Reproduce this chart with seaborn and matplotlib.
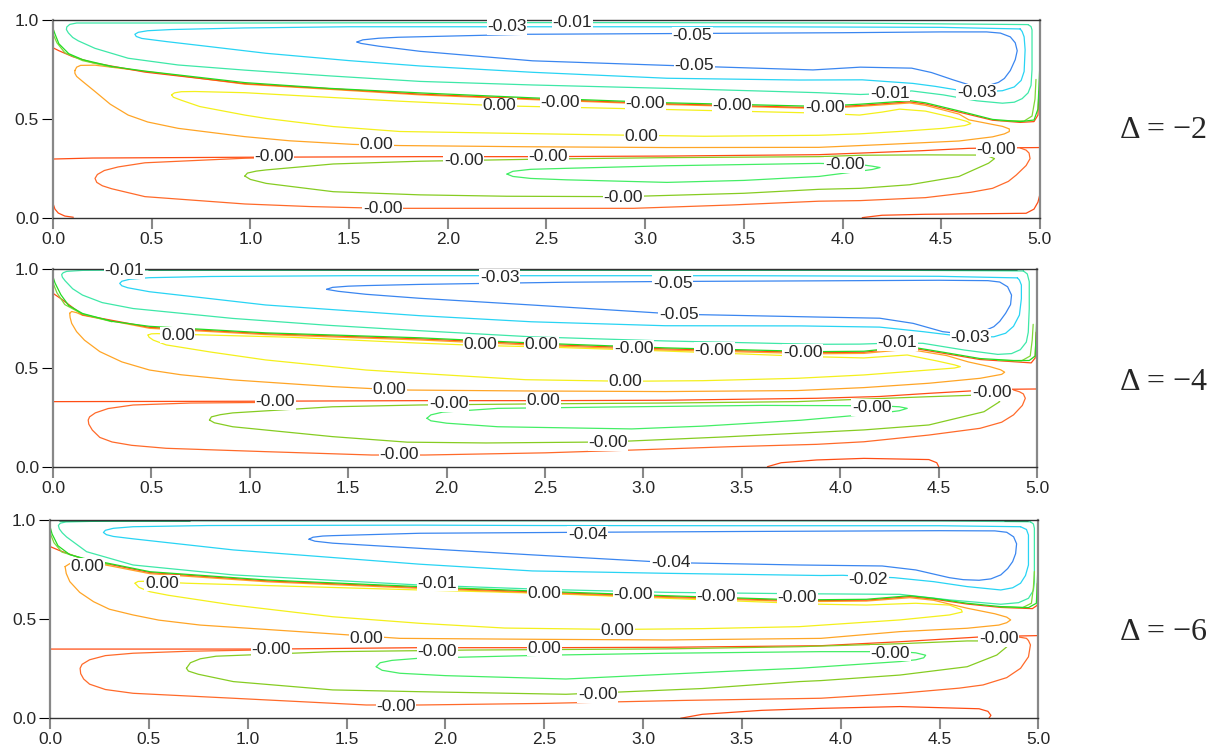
import numpy as np
import seaborn as sns
import matplotlib.pyplot as plt

sns.set_style("ticks")
plt.rcParams['font.family'] = ['Liberation Sans', 'DejaVu Sans']

# contour colours (jet-like)
BLUE = '#3a86f0'
CYAN = '#28d4f4'
TEAL = '#3ee8a8'
DKGREEN = '#12995a'
GREEN = '#22dd22'
LIME = '#7fd838'
YGREEN = '#86cc22'
LGREEN = '#44ee66'
YELLOW = '#f4f01c'
ORANGE = '#ffa526'
RED = '#ff4d14'
REDOR = '#ff6a2a'

panel_titles = ['Δ = −2', 'Δ = −4', 'Δ = −6']
x_ticks = [0.0, 0.5, 1.0, 1.5, 2.0, 2.5, 3.0, 3.5, 4.0, 4.5, 5.0]
y_ticks = [0.0, 0.5, 1.0]

# ---------------- panel 1 (delta = -2) ----------------
p1_teal = [(4.94, 0.977), (4.0, 0.985), (3.0, 0.987), (2.0, 0.987), (1.0, 0.985), (0.3, 0.985),
           (0.12, 0.985), (0.085, 0.978), (0.07, 0.965), (0.068, 0.952), (0.078, 0.935), (0.10, 0.912),
           (0.128, 0.895), (0.213, 0.857), (0.381, 0.807), (0.634, 0.773), (0.972, 0.747), (1.4, 0.718),
           (1.86, 0.69), (2.43, 0.672), (3.11, 0.655), (3.88, 0.633), (4.09, 0.624), (4.25, 0.63),
           (4.35, 0.642), (4.51, 0.622), (4.68, 0.592), (4.81, 0.58), (4.87, 0.585), (4.91, 0.603),
           (4.94, 0.632), (4.955, 0.67), (4.96, 0.75), (4.96, 0.95), (4.955, 0.967), (4.94, 0.977)]
p1_cyan = [(4.90, 0.955), (4.5, 0.963), (3.5, 0.966), (2.5, 0.966), (1.5, 0.966), (0.97, 0.96),
           (0.6, 0.952), (0.48, 0.946), (0.432, 0.938), (0.415, 0.928), (0.422, 0.917), (0.45, 0.907),
           (0.576, 0.891), (0.8, 0.865), (1.08, 0.832), (1.5, 0.795), (1.86, 0.768), (2.43, 0.736),
           (3.11, 0.706), (3.78, 0.697), (4.1, 0.698), (4.356, 0.68), (4.47, 0.665), (4.58, 0.647),
           (4.7, 0.637), (4.81, 0.643), (4.87, 0.662), (4.905, 0.695), (4.92, 0.74), (4.925, 0.85),
           (4.92, 0.915), (4.91, 0.942), (4.90, 0.955)]
p1_blue = [(1.54, 0.889), (1.57, 0.9), (1.65, 0.908), (1.75, 0.913), (2.4, 0.928), (3.2, 0.932),
           (4.0, 0.936), (4.5, 0.94), (4.73, 0.94), (4.80, 0.934), (4.85, 0.915), (4.875, 0.885),
           (4.885, 0.845), (4.875, 0.80), (4.85, 0.745), (4.82, 0.705), (4.79, 0.685), (4.75, 0.673),
           (4.69, 0.669), (4.64, 0.673), (4.56, 0.698), (4.45, 0.735), (4.35, 0.757), (4.09, 0.762),
           (3.85, 0.748), (3.11, 0.771), (2.43, 0.794), (1.86, 0.842), (1.65, 0.868), (1.56, 0.882),
           (1.54, 0.889)]
p1_green = [(0.0, 0.958), (0.01, 0.93), (0.03, 0.88), (0.08, 0.83), (0.15, 0.80), (0.3, 0.765),
            (0.466, 0.742), (0.972, 0.684), (1.4, 0.655), (1.86, 0.632), (2.43, 0.607), (3.11, 0.582),
            (3.88, 0.564), (4.09, 0.575), (4.25, 0.586), (4.34, 0.593), (4.42, 0.582), (4.59, 0.541),
            (4.76, 0.498), (4.90, 0.487), (4.97, 0.495), (4.99, 0.55), (5.0, 0.78)]
p1_lime_l = [(0.0, 0.93), (0.02, 0.885), (0.06, 0.835), (0.15, 0.795), (0.3, 0.762)]
p1_lime_r = [(4.80, 0.492), (4.92, 0.49), (4.96, 0.515), (4.975, 0.6), (4.98, 0.70)]
p1_red = [(0.0, 0.86), (0.03, 0.845), (0.1, 0.815), (0.2, 0.785), (0.466, 0.737), (0.972, 0.679),
          (1.86, 0.626), (2.43, 0.602), (3.11, 0.577), (3.88, 0.557), (4.09, 0.569), (4.34, 0.587),
          (4.42, 0.576), (4.59, 0.535), (4.76, 0.494), (4.90, 0.483), (4.97, 0.487), (4.99, 0.52),
          (4.995, 0.64)]
p1_orange = [(0.111, 0.745), (0.12, 0.762), (0.14, 0.771), (0.213, 0.772), (0.634, 0.72), (0.972, 0.676),
             (1.86, 0.622), (2.43, 0.598), (3.11, 0.573), (3.88, 0.553), (4.09, 0.564), (4.34, 0.581),
             (4.42, 0.569), (4.59, 0.525), (4.64, 0.496), (4.81, 0.463), (4.845, 0.45), (4.845, 0.437),
             (4.82, 0.425), (4.76, 0.41), (4.59, 0.389), (4.25, 0.373), (4.09, 0.366), (3.88, 0.357),
             (3.11, 0.356), (2.4, 0.36), (1.757, 0.366), (1.52, 0.372), (1.2, 0.39), (0.972, 0.411),
             (0.634, 0.453), (0.48, 0.485), (0.381, 0.52), (0.29, 0.575), (0.213, 0.639), (0.15, 0.69),
             (0.12, 0.715), (0.111, 0.731), (0.111, 0.745)]
p1_yellow = [(0.601, 0.622), (0.615, 0.632), (0.65, 0.638), (0.719, 0.639), (0.972, 0.633), (1.757, 0.59),
             (2.26, 0.567), (3.11, 0.548), (3.88, 0.53), (4.086, 0.52), (4.2, 0.535), (4.29, 0.55),
             (4.42, 0.54), (4.55, 0.51), (4.63, 0.488), (4.65, 0.477), (4.62, 0.467), (4.51, 0.453),
             (4.3, 0.438), (4.086, 0.425), (3.88, 0.418), (3.3, 0.413), (2.8, 0.42), (1.757, 0.437),
             (1.42, 0.462), (1.08, 0.503), (0.972, 0.52), (0.744, 0.563), (0.65, 0.595), (0.61, 0.61),
             (0.601, 0.622)]
p1_zero = [(0.0, 0.298), (0.2, 0.303), (0.972, 0.307), (1.86, 0.31), (2.43, 0.31), (3.11, 0.313),
           (3.88, 0.32), (4.09, 0.328), (4.4, 0.34), (4.64, 0.352), (4.9, 0.355), (5.0, 0.356)]
p1_outer = [(1.1, 0.305), (0.972, 0.302), (0.466, 0.279), (0.33, 0.258), (0.26, 0.24), (0.225, 0.22),
            (0.213, 0.20), (0.222, 0.18), (0.25, 0.163), (0.297, 0.148), (0.466, 0.108), (0.972, 0.071),
            (1.3, 0.058), (1.67, 0.049), (1.94, 0.049), (2.94, 0.049), (3.44, 0.066), (3.88, 0.085),
            (4.09, 0.088), (4.42, 0.103), (4.65, 0.13), (4.76, 0.15), (4.84, 0.185), (4.88, 0.217),
            (4.93, 0.265), (4.95, 0.30), (4.945, 0.328), (4.93, 0.343), (4.90, 0.354)]
p1_ygreen = [(0.972, 0.212), (0.985, 0.227), (1.03, 0.237), (1.08, 0.243), (1.42, 0.273), (1.86, 0.287),
             (2.5, 0.298), (3.11, 0.305), (3.88, 0.31), (4.09, 0.317), (4.42, 0.319), (4.68, 0.318),
             (4.74, 0.312), (4.77, 0.30), (4.74, 0.277), (4.59, 0.21), (4.34, 0.168), (4.09, 0.15),
             (3.88, 0.145), (3.5, 0.125), (2.89, 0.108), (2.3, 0.11), (1.86, 0.117), (1.42, 0.133),
             (1.08, 0.175), (1.0, 0.195), (0.972, 0.212)]
p1_green_in = [(2.30, 0.222), (2.33, 0.236), (2.42, 0.246), (2.60, 0.251), (3.11, 0.264), (3.88, 0.276),
               (4.09, 0.27), (4.15, 0.262), (4.19, 0.255), (4.15, 0.245), (4.09, 0.237), (3.88, 0.21),
               (3.5, 0.19), (3.11, 0.18), (2.60, 0.193), (2.42, 0.2), (2.33, 0.21), (2.30, 0.222)]
p1_corner_l = [(0.0, 0.074), (0.01, 0.045), (0.027, 0.025), (0.06, 0.01), (0.103, 0.004)]
p1_corner_r = [(4.1, 0.002), (4.2, 0.014), (4.42, 0.019), (4.93, 0.024), (4.97, 0.045), (4.99, 0.08),
               (5.0, 0.12)]
p1_labels = [(2.63, 0.99, '-0.01'), (2.30, 0.965, '-0.03'), (3.24, 0.924, '-0.05'), (3.25, 0.768, '-0.05'),
             (4.24, 0.63, '-0.01'), (4.68, 0.636, '-0.03'), (2.26, 0.567, '0.00'), (2.57, 0.585, '-0.00'),
             (3.0, 0.576, '-0.00'), (3.44, 0.566, '-0.00'), (3.91, 0.556, '-0.00'), (2.98, 0.41, '0.00'),
             (1.64, 0.369, '0.00'), (1.12, 0.31, '-0.00'), (2.08, 0.293, '-0.00'), (2.51, 0.31, '-0.00'),
             (4.01, 0.268, '-0.00'), (4.78, 0.348, '-0.00'), (2.89, 0.106, '-0.00'), (1.67, 0.05, '-0.00')]

# ---------------- panel 2 (delta = -4) ----------------
p2_teal = [(4.93, 0.99), (4.0, 0.995), (3.0, 0.996), (2.0, 0.996), (1.0, 0.996), (0.5, 0.995),
           (0.15, 0.993), (0.07, 0.988), (0.052, 0.981), (0.044, 0.972), (0.048, 0.958), (0.062, 0.94),
           (0.1, 0.9), (0.15, 0.868), (0.25, 0.83), (0.407, 0.80), (0.913, 0.75), (1.4, 0.715),
           (1.86, 0.688), (2.43, 0.657), (3.11, 0.636), (3.88, 0.619), (4.1, 0.62), (4.29, 0.626),
           (4.42, 0.624), (4.63, 0.59), (4.80, 0.568), (4.87, 0.572), (4.915, 0.592), (4.945, 0.63),
           (4.955, 0.68), (4.96, 0.8), (4.96, 0.936), (4.95, 0.975), (4.93, 0.99)]
p2_topline = [(0.49, 0.997), (2.0, 0.997), (4.0, 0.997), (4.9, 0.997)]
p2_cyan = [(4.90, 0.955), (4.5, 0.963), (3.5, 0.966), (2.5, 0.966), (1.5, 0.966), (0.8, 0.962),
           (0.49, 0.956), (0.39, 0.948), (0.35, 0.938), (0.339, 0.927), (0.35, 0.915), (0.38, 0.905),
           (0.49, 0.885), (0.8, 0.85), (1.08, 0.818), (1.86, 0.764), (2.43, 0.733), (3.11, 0.713),
           (3.8, 0.712), (4.20, 0.706), (4.42, 0.683), (4.56, 0.666), (4.66, 0.657), (4.78, 0.657),
           (4.84, 0.675), (4.88, 0.71), (4.91, 0.767), (4.92, 0.85), (4.92, 0.919), (4.91, 0.944),
           (4.90, 0.955)]
p2_blue = [(1.39, 0.897), (1.42, 0.907), (1.5, 0.913), (1.59, 0.916), (1.86, 0.922), (2.60, 0.933),
           (3.16, 0.937), (3.88, 0.94), (4.5, 0.943), (4.75, 0.941), (4.81, 0.934), (4.85, 0.91),
           (4.87, 0.868), (4.865, 0.82), (4.84, 0.776), (4.81, 0.735), (4.78, 0.708), (4.73, 0.686),
           (4.68, 0.675), (4.60, 0.674), (4.52, 0.683), (4.37, 0.725), (4.20, 0.751), (3.88, 0.757),
           (3.18, 0.771), (2.43, 0.818), (1.86, 0.852), (1.59, 0.872), (1.45, 0.887), (1.39, 0.897)]
p2_green = [(0.0, 0.961), (0.01, 0.93), (0.04, 0.87), (0.08, 0.815), (0.15, 0.775), (0.3, 0.735),
            (0.49, 0.71), (1.08, 0.677), (1.86, 0.652), (2.43, 0.626), (3.11, 0.601), (3.88, 0.582),
            (4.12, 0.584), (4.28, 0.601), (4.37, 0.604), (4.54, 0.576), (4.71, 0.547), (4.88, 0.537),
            (4.96, 0.537), (4.99, 0.56), (5.0, 0.79)]
p2_lime_l = [(0.0, 0.93), (0.02, 0.88), (0.06, 0.82), (0.15, 0.772), (0.3, 0.733)]
p2_lime_r = [(4.80, 0.538), (4.92, 0.535), (4.965, 0.56), (4.975, 0.64), (4.98, 0.72)]
p2_red = [(0.0, 0.877), (0.04, 0.85), (0.15, 0.768), (0.49, 0.705), (1.08, 0.673), (1.86, 0.647),
          (2.43, 0.621), (3.11, 0.596), (3.88, 0.577), (4.12, 0.579), (4.28, 0.596), (4.37, 0.599),
          (4.54, 0.571), (4.71, 0.542), (4.88, 0.531), (4.97, 0.525), (4.99, 0.55), (4.995, 0.68)]
p2_orange = [(0.085, 0.776), (0.095, 0.785), (0.12, 0.779), (0.15, 0.766), (0.49, 0.70), (1.08, 0.668),
             (1.86, 0.641), (2.43, 0.615), (3.11, 0.59), (3.88, 0.571), (4.12, 0.573), (4.28, 0.588),
             (4.37, 0.59), (4.54, 0.562), (4.65, 0.53), (4.76, 0.506), (4.815, 0.49), (4.835, 0.478),
             (4.82, 0.467), (4.71, 0.447), (4.45, 0.422), (4.12, 0.40), (3.78, 0.385), (3.11, 0.38),
             (2.4, 0.383), (1.757, 0.388), (1.42, 0.405), (0.913, 0.439), (0.65, 0.465), (0.49, 0.489),
             (0.35, 0.53), (0.238, 0.582), (0.16, 0.64), (0.12, 0.683), (0.095, 0.725), (0.087, 0.755),
             (0.085, 0.776)]
p2_yellow = [(0.483, 0.666), (0.5, 0.672), (0.53, 0.673), (0.744, 0.667), (1.2, 0.655), (1.86, 0.625),
             (2.17, 0.613), (2.48, 0.606), (3.11, 0.585), (3.88, 0.556), (4.12, 0.55), (4.34, 0.565),
             (4.49, 0.535), (4.58, 0.515), (4.61, 0.506), (4.58, 0.499), (4.45, 0.489), (4.12, 0.464),
             (3.78, 0.447), (3.3, 0.435), (2.91, 0.432), (2.4, 0.44), (1.86, 0.472), (1.59, 0.489),
             (1.08, 0.54), (0.8, 0.58), (0.575, 0.616), (0.51, 0.64), (0.488, 0.655), (0.483, 0.666)]
p2_zero = [(0.0, 0.329), (1.0, 0.331), (1.86, 0.334), (2.5, 0.334), (3.11, 0.336), (3.88, 0.346),
           (4.2, 0.355), (4.45, 0.371), (4.80, 0.391), (5.0, 0.393)]
p2_outer = [(1.2, 0.326), (0.7, 0.322), (0.407, 0.312), (0.28, 0.294), (0.215, 0.272), (0.186, 0.252),
            (0.179, 0.236), (0.182, 0.215), (0.2, 0.185), (0.238, 0.148), (0.3, 0.125), (0.4, 0.108),
            (0.575, 0.093), (1.08, 0.076), (1.62, 0.059), (1.89, 0.059), (2.5, 0.07), (2.94, 0.084),
            (3.44, 0.101), (3.88, 0.113), (4.12, 0.126), (4.45, 0.16), (4.71, 0.194), (4.82, 0.225),
            (4.88, 0.262), (4.925, 0.31), (4.94, 0.346), (4.93, 0.368), (4.91, 0.379), (4.88, 0.388)]
p2_ygreen = [(0.795, 0.236), (0.805, 0.252), (0.85, 0.263), (0.913, 0.272), (1.42, 0.303), (1.86, 0.312),
             (2.5, 0.318), (3.11, 0.322), (3.78, 0.329), (4.45, 0.354), (4.73, 0.363), (4.79, 0.352),
             (4.81, 0.329), (4.73, 0.278), (4.45, 0.211), (4.12, 0.186), (3.78, 0.169), (3.4, 0.15),
             (2.82, 0.125), (2.2, 0.12), (1.8, 0.124), (1.42, 0.152), (0.913, 0.202), (0.82, 0.222),
             (0.795, 0.236)]
p2_green_in = [(1.90, 0.245), (1.92, 0.262), (1.98, 0.276), (2.26, 0.295), (2.94, 0.303), (3.6, 0.31),
               (4.2, 0.308), (4.3, 0.303), (4.34, 0.295), (4.3, 0.283), (4.20, 0.27), (3.8, 0.235),
               (3.3, 0.205), (2.94, 0.191), (2.26, 0.202), (2.0, 0.22), (1.92, 0.232), (1.90, 0.245)]
p2_arch = [(3.63, 0.0), (3.7, 0.02), (3.88, 0.034), (4.12, 0.042), (4.45, 0.036), (4.49, 0.02), (4.5, 0.0)]
p2_labels = [(0.363, 0.99, '-0.01'), (2.27, 0.958, '-0.03'), (3.15, 0.928, '-0.05'), (3.18, 0.771, '-0.05'),
             (0.634, 0.666, '0.00'), (2.17, 0.616, '0.00'), (2.48, 0.616, '0.00'), (2.95, 0.60, '-0.00'),
             (3.36, 0.59, '-0.00'), (3.81, 0.58, '-0.00'), (4.29, 0.626, '-0.01'), (4.66, 0.655, '-0.03'),
             (2.91, 0.433, '0.00'), (1.71, 0.392, '0.00'), (1.13, 0.33, '-0.00'), (2.01, 0.318, '-0.00'),
             (2.49, 0.334, '0.00'), (4.16, 0.30, '-0.00'), (4.77, 0.376, '-0.00'), (2.82, 0.12, '-0.00'),
             (1.76, 0.06, '-0.00')]

# ---------------- panel 3 (delta = -6) ----------------
p3_teal = [(4.96, 0.991), (4.5, 0.995), (3.5, 0.996), (2.5, 0.996), (1.5, 0.996), (0.71, 0.996),
           (0.3, 0.995), (0.08, 0.99), (0.052, 0.984), (0.042, 0.972), (0.047, 0.955), (0.062, 0.935),
           (0.084, 0.914), (0.185, 0.84), (0.42, 0.773), (0.927, 0.723), (1.87, 0.672), (2.5, 0.65),
           (3.12, 0.635), (3.79, 0.628), (4.30, 0.625), (4.55, 0.597), (4.81, 0.575), (4.9, 0.583),
           (4.95, 0.605), (4.975, 0.645), (4.98, 0.689), (4.98, 0.958), (4.975, 0.98), (4.96, 0.991)]
p3_topline_l = [(0.05, 0.997), (0.71, 0.997)]
p3_topline_r = [(4.83, 0.997), (4.95, 0.997)]
p3_cyan = [(4.91, 0.966), (4.5, 0.971), (3.5, 0.971), (2.5, 0.972), (1.87, 0.974), (0.8, 0.972),
           (0.42, 0.966), (0.32, 0.958), (0.28, 0.948), (0.27, 0.937), (0.285, 0.926), (0.32, 0.917),
           (0.42, 0.905), (0.927, 0.849), (1.87, 0.777), (2.44, 0.743), (3.12, 0.731), (3.9, 0.72),
           (4.01, 0.721), (4.27, 0.709), (4.47, 0.689), (4.64, 0.664), (4.81, 0.647), (4.87, 0.658),
           (4.91, 0.681), (4.935, 0.72), (4.95, 0.773), (4.95, 0.924), (4.94, 0.952), (4.91, 0.966)]
p3_blue = [(1.31, 0.903), (1.33, 0.913), (1.38, 0.919), (1.43, 0.921), (1.87, 0.933), (2.72, 0.938),
           (3.5, 0.942), (4.5, 0.946), (4.78, 0.945), (4.84, 0.938), (4.875, 0.915), (4.89, 0.88),
           (4.885, 0.83), (4.87, 0.79), (4.845, 0.755), (4.81, 0.723), (4.76, 0.703), (4.70, 0.696),
           (4.62, 0.699), (4.55, 0.709), (4.38, 0.748), (4.21, 0.768), (3.79, 0.773), (3.14, 0.785),
           (2.44, 0.824), (1.87, 0.857), (1.43, 0.883), (1.34, 0.893), (1.31, 0.903)]
p3_green = [(0.0, 0.966), (0.01, 0.93), (0.04, 0.87), (0.1, 0.825), (0.168, 0.807), (0.506, 0.739),
            (1.10, 0.697), (1.87, 0.664), (2.44, 0.642), (3.12, 0.618), (3.79, 0.597), (4.13, 0.60),
            (4.35, 0.618), (4.47, 0.605), (4.64, 0.58), (4.81, 0.563), (4.95, 0.558), (4.99, 0.58),
            (5.0, 0.807)]
p3_lime_l = [(0.0, 0.935), (0.02, 0.885), (0.06, 0.838), (0.168, 0.805), (0.3, 0.775)]
p3_lime_r = [(4.80, 0.563), (4.92, 0.558), (4.965, 0.58), (4.975, 0.66), (4.98, 0.74)]
p3_red = [(0.0, 0.866), (0.05, 0.845), (0.168, 0.803), (0.506, 0.735), (1.10, 0.693), (1.87, 0.66),
          (2.44, 0.638), (3.12, 0.614), (3.79, 0.593), (4.13, 0.596), (4.35, 0.614), (4.47, 0.601),
          (4.64, 0.576), (4.81, 0.559), (4.97, 0.553), (4.995, 0.57), (4.995, 0.68)]
p3_orange = [(0.076, 0.765), (0.1, 0.78), (0.168, 0.795), (0.506, 0.729), (1.10, 0.688), (1.87, 0.655),
             (2.44, 0.633), (3.12, 0.609), (3.79, 0.588), (4.13, 0.591), (4.35, 0.608), (4.47, 0.595),
             (4.64, 0.555), (4.78, 0.527), (4.84, 0.51), (4.86, 0.496), (4.84, 0.482), (4.80, 0.47),
             (4.64, 0.454), (4.30, 0.437), (3.90, 0.403), (3.12, 0.395), (2.5, 0.398), (1.77, 0.403),
             (1.26, 0.437), (0.76, 0.47), (0.55, 0.495), (0.42, 0.521), (0.3, 0.55), (0.22, 0.588),
             (0.15, 0.635), (0.10, 0.689), (0.082, 0.73), (0.076, 0.765)]
p3_yellow = [(0.43, 0.681), (0.445, 0.69), (0.48, 0.691), (0.69, 0.681), (1.87, 0.647), (2.50, 0.63),
             (3.12, 0.605), (3.90, 0.575), (4.13, 0.571), (4.38, 0.58), (4.55, 0.571), (4.61, 0.548),
             (4.615, 0.536), (4.55, 0.521), (4.30, 0.496), (3.79, 0.462), (3.3, 0.452), (2.87, 0.448),
             (2.3, 0.455), (1.87, 0.479), (1.43, 0.512), (0.927, 0.571), (0.6, 0.62), (0.506, 0.638),
             (0.45, 0.66), (0.43, 0.681)]
p3_zero = [(0.0, 0.349), (1.12, 0.349), (1.87, 0.356), (2.5, 0.356), (3.12, 0.358), (3.90, 0.366),
           (4.30, 0.386), (4.72, 0.411), (5.0, 0.417)]
p3_outer = [(1.1, 0.345), (0.7, 0.338), (0.42, 0.328), (0.28, 0.316), (0.2, 0.295), (0.162, 0.272),
            (0.152, 0.252), (0.155, 0.225), (0.17, 0.198), (0.20, 0.172), (0.28, 0.145), (0.42, 0.126),
            (0.927, 0.101), (1.60, 0.067), (1.87, 0.067), (2.5, 0.075), (3.2, 0.09), (3.90, 0.101),
            (4.30, 0.126), (4.60, 0.152), (4.72, 0.168), (4.84, 0.205), (4.91, 0.252), (4.95, 0.31),
            (4.96, 0.37), (4.95, 0.392), (4.94, 0.403), (4.9, 0.41)]
p3_ygreen = [(0.69, 0.252), (0.71, 0.28), (0.76, 0.3), (0.84, 0.313), (1.43, 0.336), (1.87, 0.341),
             (2.11, 0.344), (3.12, 0.35), (3.79, 0.361), (4.3, 0.376), (4.64, 0.39), (4.78, 0.39),
             (4.83, 0.38), (4.84, 0.36), (4.79, 0.319), (4.64, 0.26), (4.30, 0.218), (3.90, 0.19),
             (3.79, 0.185), (3.3, 0.15), (2.61, 0.121), (1.87, 0.134), (1.43, 0.143), (0.927, 0.185),
             (0.75, 0.222), (0.70, 0.238), (0.69, 0.252)]
p3_green_in = [(1.65, 0.26), (1.67, 0.28), (1.73, 0.292), (1.87, 0.303), (2.5, 0.318), (3.12, 0.328),
               (3.90, 0.336), (4.30, 0.336), (4.38, 0.33), (4.43, 0.318), (4.42, 0.305), (4.38, 0.295),
               (4.30, 0.286), (3.79, 0.252), (3.5, 0.24), (2.61, 0.198), (2.0, 0.215), (1.77, 0.227),
               (1.68, 0.242), (1.65, 0.26)]
p3_arch = [(3.19, 0.0), (3.3, 0.02), (3.6, 0.04), (3.90, 0.05), (4.30, 0.059), (4.70, 0.048),
           (4.745, 0.035), (4.76, 0.015), (4.75, 0.0)]
p3_labels = [(2.72, 0.928, '-0.04'), (3.14, 0.785, '-0.04'), (0.19, 0.765, '0.00'), (0.566, 0.681, '0.00'),
             (1.96, 0.681, '-0.01'), (2.50, 0.63, '0.00'), (2.95, 0.622, '-0.00'), (3.37, 0.612, '-0.00'),
             (3.78, 0.607, '-0.00'), (4.14, 0.702, '-0.02'), (2.87, 0.445, '0.00'), (1.60, 0.403, '0.00'),
             (1.12, 0.349, '-0.00'), (1.96, 0.336, '-0.00'), (2.50, 0.353, '0.00'), (4.25, 0.328, '-0.00'),
             (4.80, 0.40, '-0.00'), (2.77, 0.119, '-0.00'), (1.75, 0.059, '-0.00')]

panels = [
    dict(rect=[0.0436, 0.7116, 0.8123, 0.2619], title_y=0.828, labels=p1_labels,
         curves=[(p1_teal, TEAL), (p1_cyan, CYAN), (p1_blue, BLUE), (p1_yellow, YELLOW),
                 (p1_orange, ORANGE), (p1_red, RED), (p1_lime_l, LIME), (p1_lime_r, LIME),
                 (p1_green, GREEN), (p1_outer, REDOR), (p1_zero, RED), (p1_ygreen, YGREEN),
                 (p1_green_in, LGREEN), (p1_corner_l, RED), (p1_corner_r, RED)]),
    dict(rect=[0.0436, 0.3827, 0.8100, 0.2615], title_y=0.4947, labels=p2_labels,
         curves=[(p2_teal, TEAL), (p2_topline, DKGREEN), (p2_cyan, CYAN), (p2_blue, BLUE),
                 (p2_yellow, YELLOW), (p2_orange, ORANGE), (p2_red, RED), (p2_lime_l, LIME),
                 (p2_lime_r, LIME), (p2_green, GREEN), (p2_outer, REDOR), (p2_zero, RED),
                 (p2_ygreen, YGREEN), (p2_green_in, LGREEN), (p2_arch, RED)]),
    dict(rect=[0.0412, 0.0499, 0.8134, 0.2623], title_y=0.1627, labels=p3_labels,
         curves=[(p3_teal, TEAL), (p3_topline_l, DKGREEN), (p3_topline_r, DKGREEN), (p3_cyan, CYAN),
                 (p3_blue, BLUE), (p3_yellow, YELLOW), (p3_orange, ORANGE), (p3_red, RED),
                 (p3_lime_l, LIME), (p3_lime_r, LIME), (p3_green, GREEN), (p3_outer, REDOR),
                 (p3_zero, RED), (p3_ygreen, YGREEN), (p3_green_in, LGREEN), (p3_arch, RED)]),
]

fig = plt.figure(figsize=(12.15, 7.56), dpi=100)

for i, p in enumerate(panels):
    ax = fig.add_axes(p['rect'])
    for pts, col in p['curves']:
        xs = [q[0] for q in pts]
        ys = [q[1] for q in pts]
        sns.lineplot(x=xs, y=ys, sort=False, estimator=None, color=col,
                     lw=0.9 if col != DKGREEN else 1.2, ax=ax)
    for x, y, s in p['labels']:
        ax.text(x, y, s, ha='center', va='center', fontsize=12.5, zorder=6,
                bbox=dict(boxstyle='square,pad=0.04', fc='white', ec='none'))
    ax.set_xlim(0, 5)
    ax.set_ylim(0, 1)
    ax.set_xticks(x_ticks)
    ax.set_xticklabels([f'{t:.1f}' for t in x_ticks])
    ax.set_yticks(y_ticks)
    ax.set_yticklabels([f'{t:.1f}' for t in y_ticks])
    ax.tick_params(axis='y', direction='out', length=8, width=0.8, color='black', labelsize=12.5, pad=2)
    ax.tick_params(axis='x', direction='out', length=8, width=1.5, color='#888888', labelsize=12.5, pad=2)
    for side in ['top', 'bottom']:
        ax.spines[side].set_color('#333333')
        ax.spines[side].set_linewidth(1.0)
    for side in ['left', 'right']:
        ax.spines[side].set_color('#888888')
        ax.spines[side].set_linewidth(1.6)
    ax.set_xlabel('')
    ax.set_ylabel('')
    fig.text(0.922, p['title_y'], panel_titles[i], ha='left', va='center', fontsize=23,
             family=['Liberation Serif', 'DejaVu Serif'])

fig.savefig('out.png', dpi=100)
